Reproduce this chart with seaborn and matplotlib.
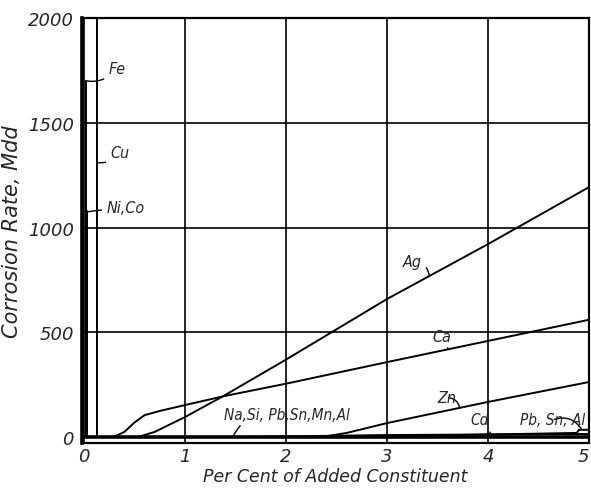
import matplotlib
matplotlib.use("Agg")
import matplotlib.pyplot as plt
import seaborn as sns
import pandas as pd

# ---- data ----
ag_x = [0.53, 0.7, 1.0, 1.38, 2.0, 3.0, 4.0, 5.0]
ag_y = [0, 25, 96, 196, 370, 659, 921, 1193]

ca_x = [0.29, 0.4, 0.5, 0.6, 0.75, 1.0, 1.38, 2.0, 3.0, 4.0, 5.0]
ca_y = [0, 25, 70, 105, 125, 153, 195, 255, 358, 459, 560]

zn_x = [2.35, 2.6, 3.0, 4.0, 5.0]
zn_y = [0, 20, 67, 168, 263]

cd_x = [1.5, 3.0, 5.0]
cd_y = [0, 10, 15]

pbsnal_x = [2.5, 4.88, 4.9, 5.0]
pbsnal_y = [0, 20, 35, 35]

nasi_x = [0.0, 5.0]
nasi_y = [0, 0]

fe_x = [0.02, 0.02]
fe_y = [0, 1700]

nico_x = [0.03, 0.03]
nico_y = [0, 1080]

cu_x = [0.13, 0.13]
cu_y = [0, 2100]

x_ticks = [0, 1, 2, 3, 4, 5]
y_ticks = [0, 500, 1000, 1500, 2000]

series = {
    "Ag": (ag_x, ag_y), "Ca": (ca_x, ca_y), "Zn": (zn_x, zn_y),
    "Cd": (cd_x, cd_y), "Pb, Sn, Al": (pbsnal_x, pbsnal_y),
    "Na, Si, Pb, Sn, Mn, Al": (nasi_x, nasi_y),
    "Fe": (fe_x, fe_y), "Ni, Co": (nico_x, nico_y), "Cu": (cu_x, cu_y),
}
rows = []
for name, (xs, ys) in series.items():
    for i, (xv, yv) in enumerate(zip(xs, ys)):
        rows.append({"metal": name, "order": i, "pct": xv, "rate": yv})
df = pd.DataFrame(rows)

# ---- style ----
sns.set_style("white")
plt.rcParams["font.family"] = ["DejaVu Sans"]
plt.rcParams["font.style"] = "italic"

fig = plt.figure(figsize=(5.91, 4.89), dpi=100)
ax = fig.add_axes([82 / 591, 1 - 444 / 489, 507 / 591, 425 / 489])

sns.lineplot(data=df, x="pct", y="rate", hue="metal", units="metal",
             estimator=None, sort=False, palette=["black"] * len(series),
             linewidth=1.4, legend=False, ax=ax)
# heavy zero-line series
base = df[df["metal"] == "Na, Si, Pb, Sn, Mn, Al"]
sns.lineplot(data=base, x="pct", y="rate", color="black", linewidth=2.6,
             estimator=None, sort=False, legend=False, ax=ax)

ax.set_xlim(-0.02, 5.0)
ax.set_ylim(-28, 2000)
ax.set_xticks(x_ticks)
ax.set_yticks(y_ticks)
xl = ax.set_xticklabels([str(t) for t in x_ticks], fontsize=13, style="italic")
xl[-1].set_horizontalalignment("right")
ax.set_yticklabels([str(t) for t in y_ticks], fontsize=13, style="italic")
ax.tick_params(axis="x", length=0, pad=3)
ax.tick_params(axis="y", length=0, pad=6)
ax.grid(True, color="black", linewidth=1.2)
ax.set_axisbelow(True)
for s in ax.spines.values():
    s.set_color("black")
    s.set_linewidth(1.6)
ax.spines["left"].set_linewidth(2.6)

ax.set_xlabel("Per Cent of Added Constituent", fontsize=12.5, style="italic", labelpad=1)
ax.set_ylabel("Corrosion Rate, Mdd", fontsize=15, style="italic", labelpad=4)

# ---- curve labels with leader lines ----
def lab(text, xy, xytext, rad=0.3, ha="left", fs=11):
    ax.annotate(text, xy=xy, xytext=xytext, fontsize=fs, style="italic",
                ha=ha, va="center", fontstretch="condensed",
                arrowprops=dict(arrowstyle="-", color="black", lw=1.0,
                                shrinkA=1, shrinkB=0,
                                connectionstyle=f"arc3,rad={rad}"))

lab("Fe", (0.02, 1700), (0.24, 1760), rad=-0.3, fs=11.5)
lab("Cu", (0.13, 1310), (0.26, 1360), rad=-0.3, fs=11.5)
lab("Ni,Co", (0.03, 1075), (0.22, 1098), rad=0.0, fs=11.5)
lab("Ag", (3.42, 769), (3.16, 840), rad=-0.4, fs=11.5)
lab("Ca", (3.6, 421), (3.45, 478), rad=-0.4, fs=11.5)
lab("Zn", (3.72, 140), (3.5, 188), rad=-0.4, fs=11.5)
lab("Cd", (4.02, 15), (3.83, 82), rad=-0.4, fs=11)
lab("Pb, Sn, Al", (4.93, 35), (4.32, 82), rad=-0.4, fs=11)
lab("Na,Si, Pb,Sn,Mn,Al", (1.47, 0), (1.39, 110), rad=0.4, fs=11)

fig.savefig("out.png", dpi=100)
